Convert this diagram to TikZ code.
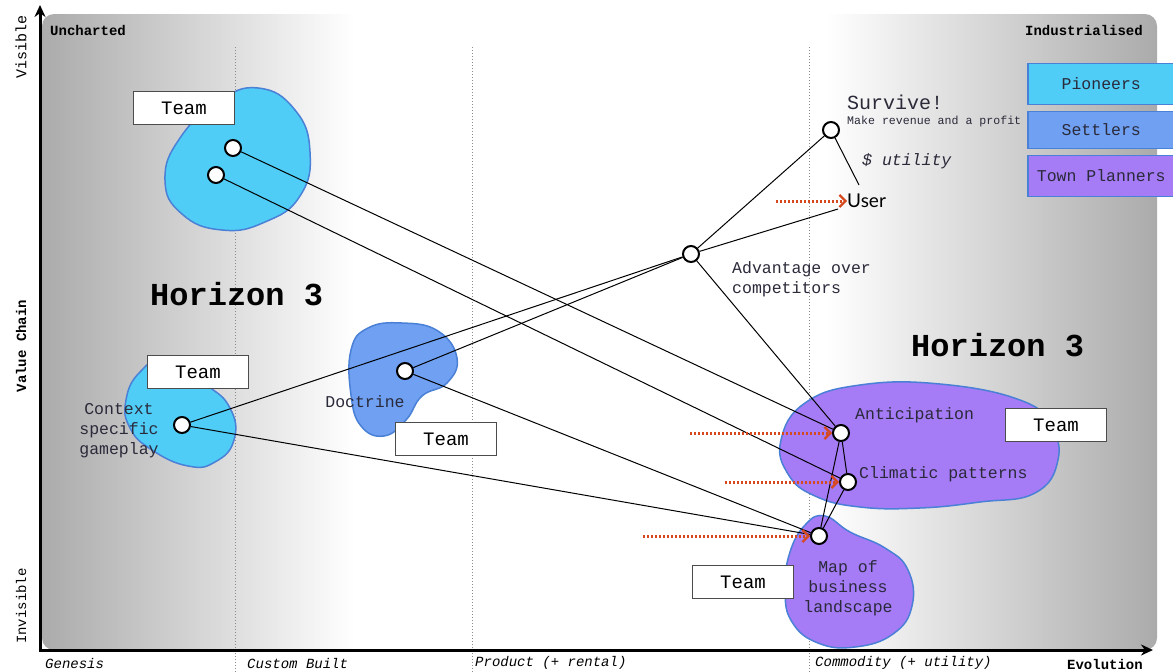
\documentclass[tikz,border=0pt]{standalone}
\usepackage{fontspec}
\newfontfamily\mono{Liberation Mono}
\newfontfamily\usr{Lato}
\usetikzlibrary{arrows.meta}
\definecolor{pio}{HTML}{4FCDF7}
\definecolor{setc}{HTML}{6FA0F2}
\definecolor{tpc}{HTML}{A57BF6}
\definecolor{blobedge}{HTML}{4A80D6}
\definecolor{redar}{HTML}{D6491F}
\definecolor{txtd}{HTML}{2A2A3A}
\tikzset{
  dot/.style={circle,draw=black,fill=white,line width=2pt,minimum size=16pt,inner sep=0pt},
  teambox/.style={draw=black!70,fill=white,line width=1pt,minimum width=101pt,minimum height=33pt,font=\mono\fontsize{19}{21}\selectfont},
  legbox/.style={draw=blobedge,line width=1.5pt,minimum width=153pt,anchor=west,font=\mono\fontsize{16.5}{18}\selectfont,text=txtd},
  blob/.style={draw=blobedge,line width=1.5pt},
  conn/.style={line width=1pt,black},
  redarrow/.style={draw=redar,line width=3pt,dash pattern=on 2.2pt off 1.8pt,-{Straight Barb[length=6pt,width=12pt,line width=2.2pt]}},
  lab/.style={font=\mono\fontsize{16.5}{20}\selectfont,text=txtd,inner sep=0pt},
  axlab/.style={font=\mono\itshape\fontsize{14}{16}\selectfont,inner sep=0pt},
  cornerlab/.style={font=\mono\bfseries\fontsize{14}{16}\selectfont,inner sep=0pt},
  horiz/.style={font=\mono\bfseries\fontsize{32}{34}\selectfont,inner sep=0pt},
  dotline/.style={draw=black!45,line width=0.6pt,dash pattern=on 1pt off 2pt}
}
\begin{document}
\begin{tikzpicture}[x=1pt,y=-1pt]
\useasboundingbox (0,0) rectangle (1173,672);
% panel
\begin{scope}
\clip[rounded corners=12pt] (42,14) rectangle (1157,650);
\fill[white] (42,14) rectangle (1157,650);
\shade[left color=black!33,right color=white] (42,14) rectangle (355,650);
\shade[left color=white,right color=black!33] (825,14) rectangle (1157,650);
\end{scope}
% dotted evolution lines
\draw[dotline] (235,47) -- (235,672);
\draw[dotline] (472,47) -- (472,672);
\draw[dotline] (809,47) -- (809,672);
% axes
\draw[line width=3pt,-{Stealth[length=12pt,width=11pt]}] (40,651) -- (40,5);
\draw[line width=3pt,-{Stealth[length=12pt,width=11pt]}] (38.5,650) -- (1153,650);
% axis labels
\node[cornerlab,anchor=west] (unch) at (50,30) {Uncharted};
\node[cornerlab,anchor=east] (indus) at (1143,30) {Industrialised};
\node[font=\mono\fontsize{15}{16}\selectfont,rotate=90,inner sep=0pt] (vis) at (21,47) {Visible};
\node[font=\mono\bfseries\fontsize{14}{16}\selectfont,rotate=90,inner sep=0pt] (vch) at (21,346) {Value Chain};
\node[font=\mono\fontsize{14}{16}\selectfont,rotate=90,inner sep=0pt] (invis) at (21,606) {Invisible};
\node[axlab,anchor=west] (gen) at (45,663) {Genesis};
\node[axlab,anchor=west] (cust) at (247,663) {Custom Built};
\node[axlab,anchor=west] (prod) at (475,663) {Product (+ rental)};
\node[axlab,anchor=west] (comm) at (815,663) {Commodity (+ utility)};
\node[cornerlab,anchor=east] (evo) at (1143,664) {Evolution};
% legend
\node[legbox,fill=pio,minimum height=41pt] (lp) at (1027,84) {\hspace*{-6pt}Pioneers};
\node[legbox,fill=setc,minimum height=37pt] (ls) at (1027,130) {\hspace*{-6pt}Settlers};
\node[legbox,fill=tpc,minimum height=41pt] (lt) at (1027,176) {\hspace*{-6pt}Town Planners};
% blobs
\filldraw[blob,fill=pio] plot[smooth cycle,tension=0.8] coordinates {(258,88) (295,110) (310,152) (300,196) (265,222) (222,230) (182,214) (165,180) (180,138) (218,102)};
\filldraw[blob,fill=pio] plot[smooth cycle,tension=0.8] coordinates {(126,400) (140,372) (166,360) (205,384) (230,408) (234,440) (215,462) (188,466) (152,450) (130,428)};
\filldraw[blob,fill=setc] plot[smooth cycle,tension=0.75] coordinates {(351,350) (368,328) (402,323) (438,331) (457,358) (447,383) (422,396) (406,420) (384,436) (361,426) (351,395)};
\filldraw[blob,fill=tpc] plot[smooth cycle,tension=0.75] coordinates {(781,440) (805,403) (860,385) (940,384) (1020,400) (1050,425) (1058,460) (1035,493) (980,502) (920,508) (860,507) (815,496) (788,474)};
\filldraw[blob,fill=tpc] plot[smooth cycle,tension=0.75] coordinates {(806,524) (825,516) (850,532) (885,548) (908,570) (912,606) (893,634) (855,647) (818,643) (792,622) (785,590) (790,552)};
% team boxes
\node[teambox] (t1) at (184,108) {Team};
\node[teambox] (t2) at (198,372) {Team};
\node[teambox] (t3) at (446,439) {Team};
\node[teambox] (t4) at (1056,425) {Team};
\node[teambox] (t5) at (743,582) {Team};
% texts
\node[horiz,anchor=west] (h3a) at (150,294) {Horizon 3};
\node[horiz,anchor=west] (h3b) at (911,345) {Horizon 3};
\node[lab,anchor=west,font=\mono\fontsize{20}{22}\selectfont] (survt) at (847,102) {Survive!};
\node[lab,anchor=west,font=\mono\fontsize{11.6}{13}\selectfont] (mkrev) at (847,121) {Make revenue and a profit};
\node[lab,anchor=west,font=\mono\itshape\fontsize{16.5}{18}\selectfont] (util) at (862,161) {\$ utility};
\node[anchor=west,inner sep=0pt,font=\usr\fontsize{19}{21}\selectfont] (user) at (847,201) {User};
\node[lab,anchor=north west,align=left] (advt) at (732,261) {Advantage over\\competitors};
\node[lab,align=center] (ctxt) at (119,431) {Context\\specific\\gameplay};
\node[lab] (doct) at (365,402) {Doctrine};
\node[lab,anchor=west] (antt) at (855,415) {Anticipation};
\node[lab,anchor=west] (clit) at (859,474) {Climatic patterns};
\node[lab,align=center] (mapt) at (848,588) {Map of\\business\\landscape};
% component dots
\node[dot] (a1) at (233,148) {};
\node[dot] (a2) at (216,175) {};
\node[dot] (surv) at (831,130) {};
\node[dot] (adv) at (691,254) {};
\node[dot] (ctx) at (182,425) {};
\node[dot] (doc) at (405,371) {};
\node[dot] (ant) at (841,433) {};
\node[dot] (cli) at (848,482) {};
\node[dot] (map) at (819,536) {};
\coordinate (userend) at (838,209);
\coordinate (survend) at (859,185);
% connectors
\draw[conn] (a1) -- (ant);
\draw[conn] (a2) -- (cli);
\draw[conn] (ctx) -- (adv);
\draw[conn] (ctx) -- (map);
\draw[conn] (doc) -- (adv);
\draw[conn] (doc) -- (map);
\draw[conn] (adv) -- (surv);
\draw[conn] (adv) -- (userend);
\draw[conn] (adv) -- (ant);
\draw[conn] (surv) -- (survend);
\draw[conn] (ant) -- (cli);
\draw[conn] (ant) -- (map);
\draw[conn] (cli) -- (map);
% red arrows
\coordinate (r0) at (776,201);
\coordinate (r1) at (690,433);
\coordinate (r2) at (725,482);
\coordinate (r3) at (643,536);
\draw[redarrow] (r0) -- (user.west);
\draw[redarrow] (r1) -- (ant);
\draw[redarrow] (r2) -- (cli);
\draw[redarrow] (r3) -- (map);
\end{tikzpicture}
\end{document}
